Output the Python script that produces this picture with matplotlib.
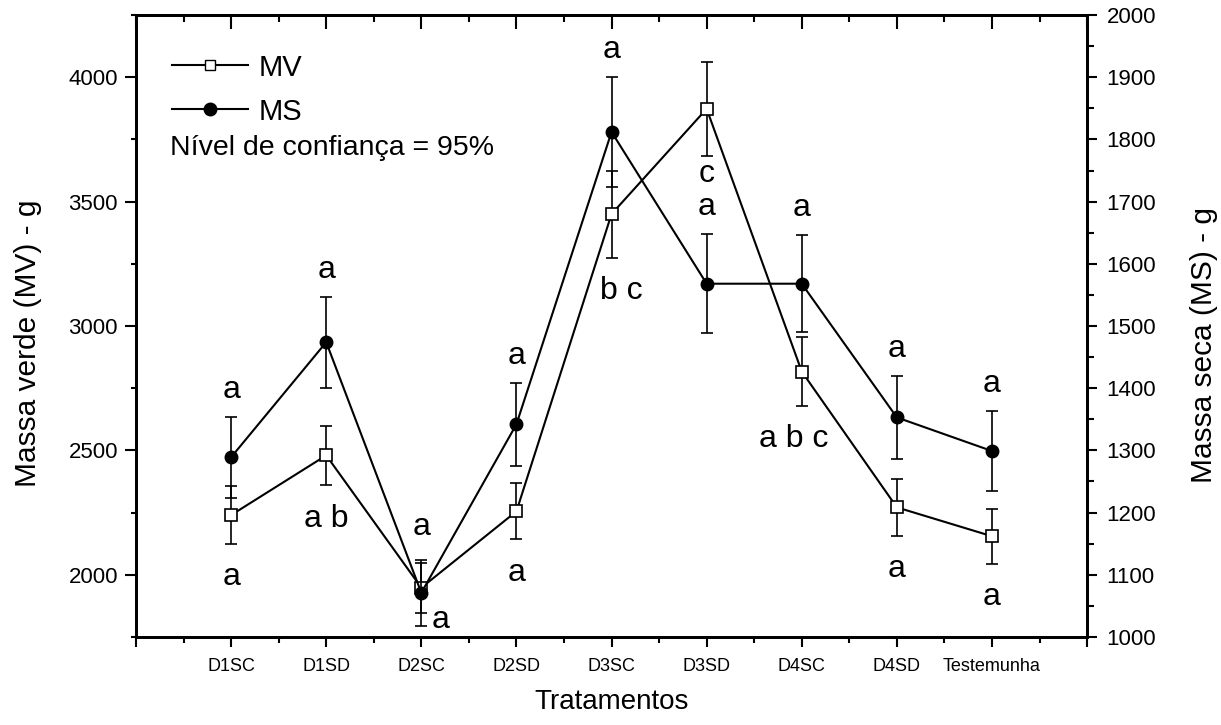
import matplotlib
matplotlib.use('Agg')
import matplotlib.pyplot as plt
from matplotlib.lines import Line2D
from matplotlib.ticker import MultipleLocator
import numpy as np

plt.rcParams['font.family'] = ['Liberation Sans', 'DejaVu Sans']

# data
categories = ['D1SC', 'D1SD', 'D2SC', 'D2SD', 'D3SC', 'D3SD', 'D4SC', 'D4SD', 'Testemunha']
mv = [2240, 2480, 1948, 2255, 3450, 3873, 2817, 2271, 2155]
mv_err = [116, 120, 100, 113, 175, 189, 137, 114, 110]
ms = [1289, 1474, 1071, 1342, 1812, 1568, 1568, 1353, 1299]
ms_err = [65, 73, 53, 67, 88, 80, 78, 67, 65]
ms_letters = ['a', 'a', 'a', 'a', 'a', 'a', 'a', 'a', 'a']
mv_letters = ['a', 'a b', 'a', 'a', 'b c', 'c', 'a b c', 'a', 'a']

x = np.arange(1, len(categories) + 1)

fig = plt.figure(figsize=(12.21, 7.25), dpi=100)
ax = fig.add_axes([0.1114, 0.1214, 0.7789, 0.8579])
ax2 = ax.twinx()

ax.errorbar(x, mv, yerr=mv_err, fmt='-s', color='black', mfc='white', mec='black',
            ms=8, mew=1.2, lw=1.5, elinewidth=1.2, capsize=4.5, capthick=1.2)
ax2.errorbar(x, ms, yerr=ms_err, fmt='-o', color='black', mfc='black', mec='black',
             ms=9, lw=1.5, elinewidth=1.2, capsize=4.5, capthick=1.2)

# letters: MS above its error bar, MV below its error bar
for i in range(len(x)):
    dy = 24 if i == 2 else 19.5
    ax2.annotate(ms_letters[i], (x[i], ms[i] + ms_err[i]), xytext=(0, dy),
                 textcoords='offset points', ha='center', va='center', fontsize=23)
    dx, dy = 0, -24
    if mv_letters[i] == 'b c':
        dx = 7
    if mv_letters[i] == 'a b c':
        dx = -6
    if mv_letters[i] == 'c':
        dy = -13
    if i == 2:
        dx, dy = 14, -5
    ax.annotate(mv_letters[i], (x[i], mv[i] - mv_err[i]), xytext=(dx, dy),
                textcoords='offset points', ha='center', va='center', fontsize=23)

ax.set_xlim(0, 10)
ax.set_ylim(1750, 4250)
ax2.set_ylim(1000, 2000)

ax.set_xticks(np.arange(0, 11), labels=[''] + categories + [''])
ax.xaxis.set_minor_locator(MultipleLocator(0.5))
ax.yaxis.set_major_locator(MultipleLocator(500))
ax.yaxis.set_minor_locator(MultipleLocator(250))
ax2.yaxis.set_major_locator(MultipleLocator(100))
ax2.yaxis.set_minor_locator(MultipleLocator(50))

ax.tick_params(axis='x', which='major', direction='out', length=7, width=1.5, pad=8, labelsize=13)
ax.tick_params(axis='x', which='minor', direction='out', length=4.5, width=1.5)
ax.tick_params(axis='y', which='major', direction='out', length=8, width=1.5, pad=5, labelsize=16)
ax.tick_params(axis='y', which='minor', direction='out', length=3.5, width=1.5)
ax2.tick_params(axis='y', which='major', direction='out', length=7, width=1.5, pad=7, labelsize=16)
ax2.tick_params(axis='y', which='minor', direction='out', length=5, width=1.5)

top = ax.secondary_xaxis('top')
top.set_xticks(np.arange(0, 11))
top.set_xticklabels([])
top.xaxis.set_minor_locator(MultipleLocator(0.5))
top.tick_params(which='major', direction='in', length=10, width=1.5)
top.tick_params(which='minor', direction='in', length=5, width=1.5)

for a in (ax, ax2):
    for s in a.spines.values():
        s.set_linewidth(2)
top.spines['top'].set_linewidth(2)

ax.set_ylabel('Massa verde (MV) - g', fontsize=21.5)
ax.yaxis.set_label_coords(-0.099, 0.473)
ax2.set_ylabel('Massa seca (MS) - g', fontsize=21.5)
ax2.yaxis.set_label_coords(1.108, 0.469)
ax.set_xlabel('Tratamentos', fontsize=20, labelpad=10)

handles = [Line2D([], [], color='black', lw=1.5, marker='s', mfc='white', mec='black', ms=7),
           Line2D([], [], color='black', lw=1.5, marker='o', mfc='black', mec='black', ms=9)]
ax2.legend(handles, ['MV', 'MS'], loc='upper left', bbox_to_anchor=(0.038, 0.938),
           frameon=False, fontsize=21, handlelength=2.6, handletextpad=0.35,
           labelspacing=0.55, borderaxespad=0, borderpad=0)
ax2.text(0.036, 0.786, 'Nível de confiança = 95%', transform=ax2.transAxes,
         fontsize=20.5, ha='left', va='center')

fig.savefig('out.png', dpi=100)
